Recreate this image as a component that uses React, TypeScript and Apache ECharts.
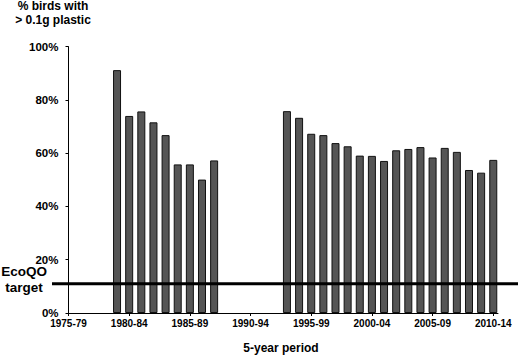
import React, { useEffect, useRef } from "react";
import * as echarts from "echarts";

const FONT = 'Arial, "Liberation Sans", Helvetica, sans-serif';

// Years of each bar (first year of the 5-year period) and % birds with > 0.1 g plastic
const earlyYears = [1979, 1980, 1981, 1982, 1983, 1984, 1985, 1986, 1987];
const earlyValues = [91.2, 74.0, 75.7, 71.6, 66.8, 55.8, 55.8, 50.1, 57.3];
const lateYears = [1993, 1994, 1995, 1996, 1997, 1998, 1999, 2000, 2001, 2002, 2003, 2004, 2005, 2006, 2007, 2008, 2009, 2010];
const lateValues = [75.8, 73.3, 67.3, 66.8, 63.8, 62.6, 59.1, 59.0, 57.1, 61.1, 61.6, 62.3, 58.4, 62.0, 60.5, 53.7, 52.7, 57.5];

// x-axis tick labels (start year of each 5-year period)
const periodStarts = [1975, 1980, 1985, 1990, 1995, 2000, 2005, 2010];
const yTicks = [0, 20, 40, 60, 80, 100];
const ecoQOTarget = 11;

export default function App() {
  const ref = useRef<HTMLDivElement>(null);
  useEffect(() => {
    if (!ref.current) return;
    const chart = echarts.init(ref.current, null, { renderer: "svg" });
    const data = [
      ...earlyYears.map((y, i) => [y, earlyValues[i]]),
      ...lateYears.map((y, i) => [y, lateValues[i]]),
    ];
    chart.setOption({
      animation: false,
      grid: { left: 68.5, right: 22, top: 46.7, bottom: 44, containLabel: false },
      xAxis: {
        type: "value",
        min: 1975,
        max: 2010.39,
        interval: 5,
        splitLine: { show: false },
        axisLine: { show: true, lineStyle: { color: "#000", width: 1 } },
        axisTick: { show: true, length: 3, customValues: periodStarts, lineStyle: { color: "#000" } },
        axisLabel: {
          customValues: periodStarts,
          margin: 5,
          fontFamily: FONT,
          fontWeight: "bold",
          fontSize: 10,
          color: "#000",
          formatter: (v: number) => `${v}-${String(v + 4).slice(2)}`,
        },
      },
      yAxis: {
        type: "value",
        min: 0,
        max: 100,
        interval: 20,
        splitLine: { show: false },
        axisLine: { show: true, lineStyle: { color: "#000", width: 1 } },
        axisTick: { show: true, length: 3, lineStyle: { color: "#000" } },
        axisLabel: {
          customValues: yTicks,
          margin: 10,
          fontFamily: FONT,
          fontWeight: "bold",
          fontSize: 11.5,
          color: "#000",
          formatter: "{value}%",
        },
      },
      series: [
        {
          type: "bar",
          data,
          barWidth: 8,
          itemStyle: { color: "#555555", borderColor: "#111111", borderWidth: 1 },
        },
      ],
    });
    const yPix = chart.convertToPixel({ yAxisIndex: 0 }, ecoQOTarget) as number;
    chart.setOption({
      graphic: [
        {
          type: "line",
          shape: { x1: 52, y1: yPix, x2: 518, y2: yPix },
          style: { stroke: "#000", lineWidth: 3 },
          z: 100,
        },
        {
          type: "text",
          x: 53,
          y: 13,
          style: {
            text: "% birds with\n> 0.1g plastic",
            font: `bold 12px ${FONT}`,
            fill: "#000",
            align: "center",
            verticalAlign: "middle",
            lineHeight: 14,
          },
        },
        {
          type: "text",
          x: 24,
          y: 279.5,
          style: {
            text: "EcoQO\ntarget",
            font: `bold 13.5px ${FONT}`,
            fill: "#000",
            align: "center",
            verticalAlign: "middle",
            lineHeight: 16,
          },
        },
        {
          type: "text",
          x: 281,
          y: 348,
          style: {
            text: "5-year period",
            font: `bold 12px ${FONT}`,
            fill: "#000",
            align: "center",
            verticalAlign: "middle",
          },
        },
      ],
    });
    return () => chart.dispose();
  }, []);
  return <div ref={ref} style={{ position: "fixed", left: 0, top: 0, width: 520, height: 357, background: "#fff" }} />;
}
